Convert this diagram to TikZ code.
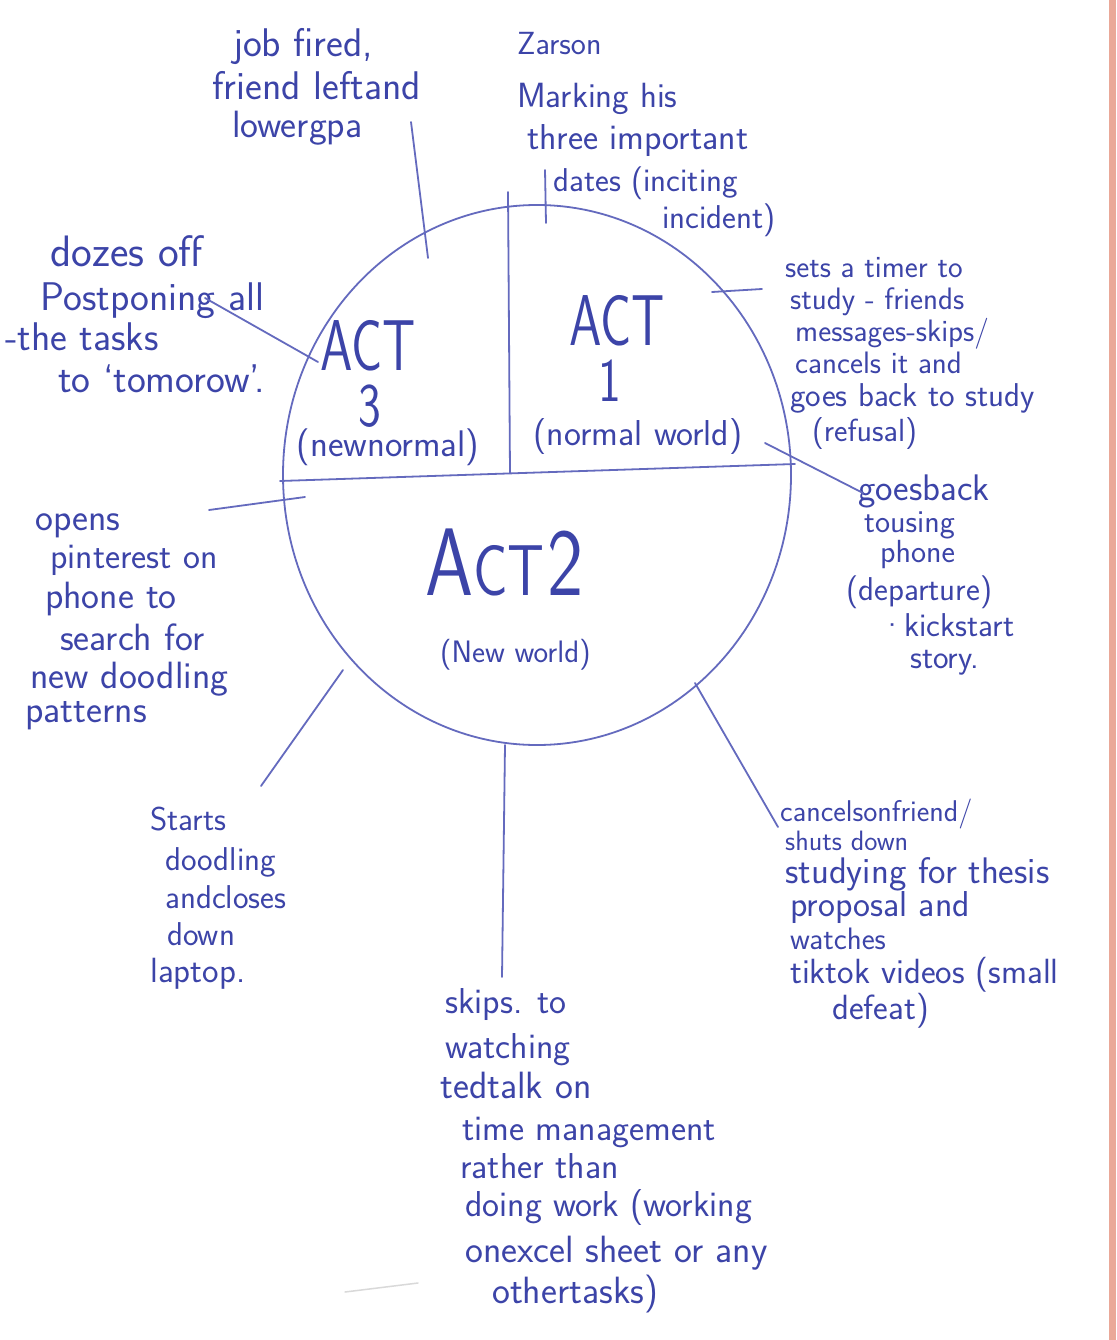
\documentclass[tikz,border=0pt]{standalone}
\usepackage{graphicx}

\definecolor{ink}{RGB}{60,68,168}
\definecolor{pen}{RGB}{100,106,190}
\definecolor{margin}{RGB}{234,168,152}

\newcommand{\handsize}[1]{\fontsize{#1}{#1}\selectfont}

\tikzset{
  hand/.style={text=ink, inner sep=0pt, anchor=base west},
  hs/.style={hand, font=\sffamily\handsize{#1}},
  actlabel/.style={text=ink, inner sep=0pt, anchor=north, align=center,
    font=\sffamily\fontsize{10}{10}\selectfont},
  pline/.style={draw=pen, line width=1.8pt, line cap=round},
}

\begin{document}
\begin{tikzpicture}[x=1pt, y=-1pt]
  \useasboundingbox (0,0) rectangle (1116,1340);
  \fill[white] (0,0) rectangle (1116,1340);
  % coloured margin strip on the right
  \fill[margin] (1109,0) rectangle (1116,1340);

  % the story circle and its three acts
  \coordinate (ctr) at (537,475);
  \draw[pline] (ctr) ellipse [x radius=254pt, y radius=270pt];
  \coordinate (vtop) at (508,192);
  \coordinate (vbot) at (510,473);
  \coordinate (hl) at (280,481);
  \coordinate (hr) at (795,464);
  \draw[pline] (vtop) -- (vbot);
  \draw[pline] (hl) -- (hr);

  % act labels, each stacked in one node
  \node[actlabel] (act3) at (378,320)
    {\hspace*{-20pt}{\handsize{72}\scalebox{0.72}[1]{ACT}}\\[13pt]
     \hspace*{-16pt}{\handsize{62}\scalebox{0.78}[1]{3}}\\[0pt]
     \hspace*{20pt}{\handsize{37}(newnormal)}};

  \node[actlabel] (act1) at (630,295)
    {\hspace*{-26pt}{\handsize{72}\scalebox{0.72}[1]{ACT}}\\[13pt]
     \hspace*{-40pt}{\handsize{62}\scalebox{0.78}[1]{1}}\\[16pt]
     \hspace*{16pt}{\handsize{36}(normal world)}};

  \node[hand, font=\sffamily] (act2) at (425,595)
    {\scalebox{0.8}[1]{{\handsize{96}A}{\handsize{72}CT}\hspace{0.3em}{\handsize{96}2}}};
  \node[hs=31] (act2s) at (440,662) {(New world)};

  % top left: job fired
  \node[hs=40] (a1) at (233,57) {job fired,};
  \node[hs=40] (a2) at (212,100) {friend leftand};
  \node[hs=38] (a3) at (232,138) {lowergpa};
  \coordinate (ja) at (411,122);
  \coordinate (jb) at (428,258);
  \draw[pline] (ja) -- (jb);

  % top right: Zarson
  \node[hs=32] (b1) at (517,55) {Zarson};
  \node[hs=35] (b2) at (517,108) {Marking his};
  \node[hs=36] (b3) at (527,150) {three important};
  \node[hs=33] (b4) at (553,192) {dates (inciting};
  \node[hs=33] (b5) at (662,229) {incident)};
  \coordinate (za) at (545,170);
  \coordinate (zb) at (546,223);
  \draw[pline] (za) -- (zb);

  % left: dozes off
  \node[hs=44] (c1) at (50,266) {dozes off};
  \node[hs=40] (c2) at (40,310) {Postponing all};
  \node[hs=40] (c3) at (5,350) {-the tasks};
  \node[hs=40] (c4) at (58,392) {to `tomorow'.};
  \coordinate (da) at (205,298);
  \coordinate (db) at (318,362);
  \draw[pline] (da) -- (db);

  % right: sets a timer
  \node[hs=31] (g1) at (785,277) {sets a timer to};
  \node[hs=31] (g2) at (790,309) {study - friends};
  \node[hs=31] (g3) at (795,341) {messages-skips/};
  \node[hs=31] (g4) at (795,373) {cancels it and};
  \node[hs=33] (g5) at (790,406) {goes back to study};
  \node[hs=32] (g6) at (812,441) {(refusal)};
  \coordinate (sa) at (712,292);
  \coordinate (sb) at (762,289);
  \draw[pline] (sa) -- (sb);

  % right: goes back to using phone
  \node[hs=37] (h1) at (858,500) {goesback};
  \node[hs=32] (h2) at (864,532) {tousing};
  \node[hs=32] (h3) at (880,562) {phone};
  \node[hs=33] (h4) at (846,600) {(departure)};
  \node[hs=33] (h5) at (880,636) {\textperiodcentered kickstart};
  \node[hs=33] (h6) at (910,668) {story.};
  \coordinate (ga) at (765,443);
  \coordinate (gb) at (863,493);
  \draw[pline] (ga) -- (gb);

  % left: opens pinterest
  \node[hs=38] (i1) at (35,530) {opens};
  \node[hs=36] (i2) at (50,568) {pinterest on};
  \node[hs=38] (i3) at (45,608) {phone to};
  \node[hs=38] (i4) at (60,650) {search for};
  \node[hs=38] (i5) at (30,688) {new doodling};
  \node[hs=38] (i6) at (25,722) {patterns};
  \coordinate (oa) at (209,510);
  \coordinate (ob) at (305,497);
  \draw[pline] (oa) -- (ob);

  % lower left: starts doodling
  \node[hs=33] (k1) at (150,830) {Starts};
  \node[hs=33] (k2) at (165,870) {doodling};
  \node[hs=33] (k3) at (165,908) {andcloses};
  \node[hs=33] (k4) at (167,945) {down};
  \node[hs=35] (k5) at (150,982) {laptop.};
  \coordinate (ta) at (261,786);
  \coordinate (tb) at (343,670);
  \draw[pline] (ta) -- (tb);

  % bottom: skips to watching
  \node[hs=36] (m1) at (445,1013) {skips. to};
  \node[hs=36] (m2) at (445,1058) {watching};
  \node[hs=38] (m3) at (440,1098) {tedtalk on};
  \node[hs=36] (m4) at (462,1140) {time management};
  \node[hs=36] (m5) at (460,1178) {rather than};
  \node[hs=36] (m6) at (465,1216) {doing work (working};
  \node[hs=38] (m7) at (465,1262) {onexcel sheet or any};
  \node[hs=38] (m8) at (492,1303) {othertasks)};
  \coordinate (wa) at (505,745);
  \coordinate (wb) at (502,977);
  \draw[pline] (wa) -- (wb);

  % lower right: cancels on friend
  \node[hs=30] (n1) at (780,821) {cancelsonfriend/};
  \node[hs=28] (n2) at (785,850) {shuts down};
  \node[hs=37] (n3) at (785,883) {studying for thesis};
  \node[hs=36] (n4) at (790,916) {proposal and};
  \node[hs=31] (n5) at (790,949) {watches};
  \node[hs=35] (n6) at (790,983) {tiktok videos (small};
  \node[hs=35] (n7) at (832,1019) {defeat)};
  \coordinate (ca) at (695,683);
  \coordinate (cb) at (778,827);
  \draw[pline] (ca) -- (cb);

  % faint stray pencil mark
  \coordinate (fa) at (345,1292);
  \coordinate (fb) at (418,1283);
  \draw[black!15, line width=1.5pt, line cap=round] (fa) -- (fb);
\end{tikzpicture}
\end{document}
